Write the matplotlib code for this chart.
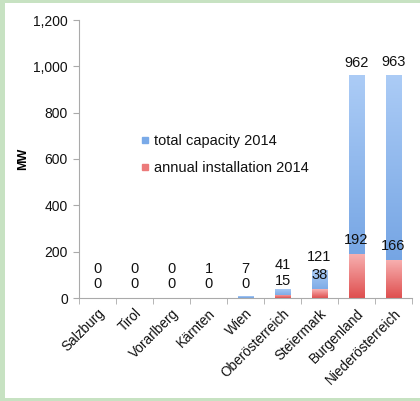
import matplotlib

matplotlib.use("Agg")
import matplotlib.pyplot as plt
import numpy as np
from matplotlib.colors import LinearSegmentedColormap
from matplotlib.lines import Line2D
from matplotlib.patches import Rectangle
from matplotlib.ticker import FuncFormatter

plt.rcParams["font.family"] = ["Liberation Sans", "DejaVu Sans"]

# ---------------------------------------------------------------- data
regions = ["Salzburg", "Tirol", "Vorarlberg", "Kärnten", "Wien",
           "Oberösterreich", "Steiermark", "Burgenland", "Niederösterreich"]
total_2014 = [0, 0, 0, 1, 7, 41, 121, 962, 963]
annual_2014 = [0, 0, 0, 0, 0, 15, 38, 192, 166]

GREEN_BG = "#c7e2c2"
BLUE_CM = LinearSegmentedColormap.from_list("b", ["#6a9de0", "#acccf6"])
RED_CM = LinearSegmentedColormap.from_list("r", ["#df4f4f", "#f8b2b2"])
GRAD = np.linspace(0, 1, 256).reshape(-1, 1)


def grad_bar(ax, x, h, w, cmap):
    if h <= 0:
        return
    rect = Rectangle((x - w / 2, 0), w, h, fc="none", ec="none")
    ax.add_patch(rect)
    im = ax.imshow(GRAD, cmap=cmap, origin="lower", aspect="auto",
                   extent=(x - w / 2, x + w / 2, 0, h), zorder=2)
    im.set_clip_path(rect)


fig = plt.figure(figsize=(4.2, 4.01), dpi=100)
fig.patch.set_facecolor(GREEN_BG)
bg = fig.add_axes([5 / 420, 3 / 401, 1, 395 / 401], zorder=-1)
bg.set_facecolor("white")
bg.set_xticks([])
bg.set_yticks([])
for s in bg.spines.values():
    s.set_visible(False)

ax = fig.add_axes([79 / 420, 103 / 401, 333 / 420, 278 / 401])
ax.set_facecolor("none")

xs = np.arange(len(regions))
w = 0.43
for x, t, a in zip(xs, total_2014, annual_2014):
    grad_bar(ax, x, t, w, BLUE_CM)
    grad_bar(ax, x, a, w, RED_CM)
    ax.annotate(f"{a}", (x, a), textcoords="offset points", xytext=(0, 5),
                ha="center", va="bottom", fontsize=10.5, color="#111111",
                zorder=4)
    ax.annotate(f"{t}", (x, max(t, a + 72)), textcoords="offset points",
                xytext=(0, 4), ha="center", va="bottom", fontsize=10.5,
                color="#111111", zorder=4)

ax.set_xlim(-0.5, len(regions) - 0.5)
ax.set_ylim(0, 1200)
ax.set_yticks(range(0, 1201, 200))
ax.yaxis.set_major_formatter(FuncFormatter(lambda v, p: f"{v:,.0f}"))
ax.set_xticks(xs)
ax.set_xticklabels(regions, rotation=45, ha="right", rotation_mode="anchor",
                   fontsize=9.8, color="#111111")
ax.set_xticks(np.arange(-0.5, len(regions)), minor=True)
ax.tick_params(axis="x", which="major", length=0, pad=6)
ax.tick_params(axis="x", which="minor", length=4, color="#aaaaaa")
ax.tick_params(axis="y", length=4, color="#aaaaaa", labelsize=10,
               labelcolor="#111111", pad=4)
for s in ("top", "right"):
    ax.spines[s].set_visible(False)
for s in ("left", "bottom"):
    ax.spines[s].set_color("#aaaaaa")
ax.set_ylabel("MW", fontsize=9, fontweight="bold", labelpad=3)

handles = [Line2D([], [], ls="none", marker="s", ms=5, color="#7aaae8"),
           Line2D([], [], ls="none", marker="s", ms=5, color="#ec7a7a")]
ax.legend(handles, ["total capacity 2014", "annual installation 2014"],
          loc="center left", bbox_to_anchor=(0.145, 0.515), frameon=False,
          fontsize=10.5, handlelength=0.6, handletextpad=0.3,
          labelspacing=0.9, labelcolor="#111111")

fig.savefig("out.png", dpi=100, facecolor=fig.get_facecolor())
